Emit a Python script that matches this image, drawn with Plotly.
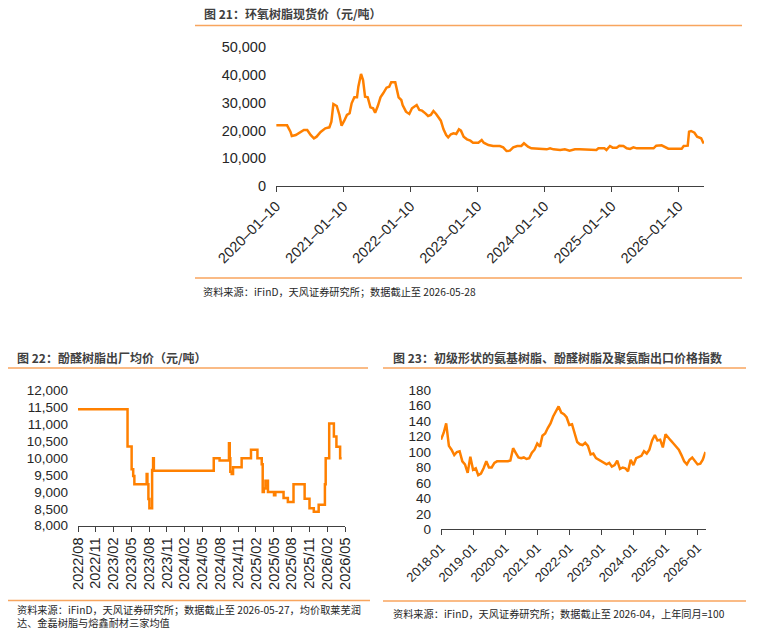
import plotly.graph_objects as go
import pandas as pd

# ---------------- data ----------------
# Chart 21: epoxy resin spot price (yuan/ton); x in decimal years
years21 = [2020.03, 2020.19, 2020.24, 2020.26, 2020.32, 2020.38, 2020.44, 2020.49, 2020.54, 2020.59,
           2020.63, 2020.69, 2020.76, 2020.82, 2020.85, 2020.88, 2020.93, 2020.97, 2021.00, 2021.04,
           2021.08, 2021.12, 2021.15, 2021.19, 2021.23, 2021.25, 2021.29, 2021.32, 2021.35, 2021.39,
           2021.43, 2021.47, 2021.50, 2021.54, 2021.58, 2021.62, 2021.67, 2021.71, 2021.74, 2021.80,
           2021.82, 2021.85, 2021.89, 2021.91, 2021.96, 2022.01, 2022.05, 2022.09, 2022.12, 2022.16,
           2022.20, 2022.25, 2022.29, 2022.33, 2022.37, 2022.41, 2022.44, 2022.48, 2022.52, 2022.56,
           2022.59, 2022.63, 2022.67, 2022.71, 2022.75, 2022.78, 2022.82, 2022.87, 2022.92, 2022.96,
           2023.04, 2023.09, 2023.12, 2023.19, 2023.26, 2023.36, 2023.41, 2023.46, 2023.51, 2023.56,
           2023.62, 2023.68, 2023.72, 2023.78, 2023.83, 2023.96, 2024.06, 2024.11, 2024.16, 2024.26,
           2024.33, 2024.40, 2024.48, 2024.55, 2024.80, 2024.83, 2024.92, 2024.95, 2025.00, 2025.04,
           2025.10, 2025.14, 2025.20, 2025.25, 2025.30, 2025.35, 2025.40, 2025.65, 2025.69, 2025.77,
           2025.82, 2025.87, 2026.07, 2026.10, 2026.16, 2026.18, 2026.21, 2026.26, 2026.30, 2026.34,
           2026.36, 2026.39, 2026.40]
values21 = [21880, 21880, 19580, 18030, 18390, 19220, 20190, 20190, 18390, 17190,
            17780, 19470, 20790, 21150, 23190, 29560, 28840, 25600, 21750, 23550,
            25600, 26200, 29800, 31970, 31970, 35800, 40380, 38210, 32200, 31970,
            28360, 27990, 26430, 28840, 31970, 33420, 35440, 35800, 37380, 37380,
            35200, 31960, 31000, 29200, 26790, 25960, 28000, 28600, 29200, 27400,
            27160, 26200, 25240, 25600, 27040, 25960, 25000, 23550, 20430, 18390,
            17550, 18640, 19000, 18760, 20430, 19950, 17780, 16830, 16350, 15630,
            15630, 16580, 15630, 14780, 14420, 14420, 13940, 12620, 12740, 13940,
            14420, 14420, 15390, 14180, 13580, 13340, 13220, 13580, 13220, 12980,
            13220, 12740, 13220, 13220, 12980, 13580, 13580, 12980, 14420, 13820,
            13820, 14540, 14420, 13580, 13340, 13940, 13580, 13580, 14540, 14660,
            14180, 13460, 13460, 14420, 14540, 19580, 19830, 19220, 17780, 17550,
            17190, 15630, 15390]
ticks21 = ["2020-01-10", "2021-01-10", "2022-01-10", "2023-01-10", "2024-01-10", "2025-01-10", "2026-01-10"]
ticklabels21 = ["2020–01–10", "2021–01–10", "2022–01–10", "2023–01–10", "2024–01–10", "2025–01–10", "2026–01–10"]

# Chart 22: phenolic resin ex-factory average price (yuan/ton), step series
dates22 = ["2022-08-31", "2023-05-12", "2023-06-02", "2023-06-10", "2023-06-16", "2023-08-18", "2023-08-22",
           "2023-08-27", "2023-09-01", "2023-09-15", "2023-09-20", "2023-09-24", "2024-07-27", "2024-08-26",
           "2024-10-13", "2024-10-17", "2024-10-20", "2024-10-27", "2024-11-03", "2024-12-17", "2025-02-03",
           "2025-03-08", "2025-03-30", "2025-04-04", "2025-04-10", "2025-04-18", "2025-05-01", "2025-06-01",
           "2025-06-08", "2025-07-20", "2025-08-11", "2025-09-09", "2025-11-05", "2025-11-30", "2025-12-22",
           "2026-01-16", "2026-02-17", "2026-02-21", "2026-03-11", "2026-04-04", "2026-04-17", "2026-05-06",
           "2026-05-14"]
values22 = [11450, 10350, 9670, 9470, 9230, 9530, 9230,
            8790, 8520, 9650, 10000, 9630, 10000, 9930,
            10440, 10000, 9600, 9530, 9730, 10000, 10250,
            10000, 9820, 9000, 9100, 9330, 9000, 8900,
            9000, 8820, 8700, 9230, 8800, 8520, 8410,
            8620, 9230, 10000, 11030, 10640, 10340, 10000,
            10000]
ticks22 = ["2022-08-31", "2022-11-30", "2023-02-28", "2023-05-31", "2023-08-31", "2023-11-30", "2024-02-29",
           "2024-05-31", "2024-08-31", "2024-11-30", "2025-02-28", "2025-05-31", "2025-08-31", "2025-11-30",
           "2026-02-28", "2026-05-31"]
ticklabels22 = ["2022/08", "2022/11", "2023/02", "2023/05", "2023/08", "2023/11", "2024/02",
                "2024/05", "2024/08", "2024/11", "2025/02", "2025/05", "2025/08", "2025/11",
                "2026/02", "2026/05"]

# Chart 23: export price index, monthly 2018-01 .. 2026-04 (same month last year = 100)
months23 = pd.date_range("2018-01-01", "2026-04-01", freq="MS")
values23 = [116, 125, 137, 108, 103, 96, 100, 101, 88, 84,
            73, 94, 77, 79, 70, 72, 79, 88, 80, 80,
            86, 88, 88, 88, 88, 88, 89, 105, 99, 93,
            92, 93, 91, 92, 99, 103, 111, 107, 121, 124,
            131, 137, 146, 153, 159, 151, 149, 145, 135, 136,
            126, 113, 110, 109, 112, 108, 97, 98, 92, 90,
            88, 85, 84, 86, 81, 83, 89, 78, 80, 79,
            75, 90, 83, 92, 93, 95, 101, 98, 103, 115,
            122, 115, 116, 106, 123, 118, 115, 111, 107, 103,
            96, 88, 84, 90, 93, 89, 84, 85, 90, 100]
ticks23 = ["2018-01-01", "2019-01-01", "2020-01-01", "2021-01-01", "2022-01-01",
           "2023-01-01", "2024-01-01", "2025-01-01", "2026-01-01"]
ticklabels23 = ["2018-01", "2019-01", "2020-01", "2021-01", "2022-01",
                "2023-01", "2024-01", "2025-01", "2026-01"]

title21 = "图 21：环氧树脂现货价（元/吨）"
title22 = "图 22：酚醛树脂出厂均价（元/吨）"
title23 = "图 23：初级形状的氨基树脂、酚醛树脂及聚氨酯出口价格指数"
source21 = "资料来源：iFinD，天风证券研究所；数据截止至 2026-05-28"
source22a = "资料来源：iFinD，天风证券研究所；数据截止至 2026-05-27，均价取莱芜润"
source22b = "达、金磊树脂与熔鑫耐材三家均值"
source23 = "资料来源：iFinD，天风证券研究所；数据截止至 2026-04，上年同月=100"


def yr_to_date(y):
    year = int(y)
    return pd.Timestamp(year, 1, 1) + pd.Timedelta(days=(y - year) * 365.25)


dates21 = [yr_to_date(y) for y in years21]

# ---------------- styling ----------------
OFF = 1                      # the page body margin is removed below
W, H = 762 - OFF, 629 - OFF
LINE = "#FF8000"
RULE = "#F8A55E"
AX = "#404040"
TXT = "#262626"
FONT = "Liberation Sans, Arial, Noto Sans CJK SC, sans-serif"


def fx(p):
    return (p - OFF) / W


def fy(p):
    return 1 - (p - OFF) / H


fig = go.Figure()
fig.add_trace(go.Scatter(x=dates21, y=values21, mode="lines",
                         line=dict(color=LINE, width=2.5), xaxis="x", yaxis="y"))
fig.add_trace(go.Scatter(x=dates22, y=values22, mode="lines",
                         line=dict(color=LINE, width=2.5, shape="hv"), xaxis="x2", yaxis="y2"))
fig.add_trace(go.Scatter(x=months23, y=values23, mode="lines",
                         line=dict(color=LINE, width=2.5), xaxis="x3", yaxis="y3"))

xcommon = dict(type="date", showline=True, linecolor=AX, linewidth=1, ticks="outside",
               ticklen=5, tickcolor=AX, tickwidth=1, showgrid=False, zeroline=False,
               automargin=False)
ycommon = dict(showline=False, ticks="", showgrid=False, zeroline=False, tickformat=",d",
               ticklabelstandoff=9, automargin=False)

fig.update_layout(
    width=W, height=H, margin=dict(l=0, r=0, t=0, b=0, pad=0, autoexpand=False),
    autosize=False,
    paper_bgcolor="white", plot_bgcolor="white", showlegend=False,
    font=dict(family=FONT, color=TXT),
    xaxis=dict(xcommon, domain=[fx(276), fx(704)], range=["2020-01-10", "2026-05-28"], anchor="y",
               tickvals=ticks21, ticktext=ticklabels21, tickangle=-45,
               tickfont=dict(size=14.5, color=TXT, family=FONT)),
    yaxis=dict(ycommon, domain=[fy(186), fy(47.3)], range=[0, 50000], anchor="x",
               tickvals=[0, 10000, 20000, 30000, 40000, 50000],
               tickfont=dict(size=14.5, color=TXT, family=FONT)),
    xaxis2=dict(xcommon, domain=[fx(78), fx(345)], range=["2022-08-31", "2026-05-31"], anchor="y2",
                tickvals=ticks22, ticktext=ticklabels22, tickangle=-90,
                tickfont=dict(size=14.5, color=TXT, family=FONT)),
    yaxis2=dict(ycommon, domain=[fy(525.7), fy(390.7)], range=[8000, 12000], anchor="x2",
                tickvals=list(range(8000, 12001, 500)),
                tickfont=dict(size=13.5, color=TXT, family=FONT)),
    xaxis3=dict(xcommon, domain=[fx(441), fx(705.5)], range=["2018-01-01", "2026-04-01"], anchor="y3",
                tickvals=ticks23, ticktext=ticklabels23, tickangle=-45,
                tickfont=dict(size=13, color=TXT, family=FONT)),
    yaxis3=dict(ycommon, domain=[fy(529.3), fy(390.2)], range=[0, 180], anchor="x3",
                tickvals=list(range(0, 181, 20)),
                tickfont=dict(size=13.5, color=TXT, family=FONT)),
)

# rules under titles and above sources
rules = [(195, 742, 25.5), (195, 742, 278), (8, 368, 368), (8, 370, 600.5), (383, 746, 368), (383, 746, 601)]
for x0, x1, y in rules:
    fig.add_shape(type="line", xref="paper", yref="paper", x0=fx(x0), x1=fx(x1), y0=fy(y), y1=fy(y),
                  line=dict(color=RULE, width=1.6))

annos = [
    (203, 13.5, "<b>" + title21 + "</b>", 12, "#404040"),
    (16, 357, "<b>" + title22 + "</b>", 12, "#404040"),
    (392, 357, "<b>" + title23 + "</b>", 12, "#404040"),
    (202, 291, source21, 10.2, TXT),
    (16, 609.5, source22a, 10.2, TXT),
    (16, 622.5, source22b, 10.2, TXT),
    (392, 613, source23, 10.2, TXT),
]
for x, y, t, s, c in annos:
    fig.add_annotation(xref="paper", yref="paper", x=fx(x), y=fy(y), text=t, showarrow=False,
                       xanchor="left", yanchor="middle", align="left", borderpad=0,
                       font=dict(size=s, color=c, family="Noto Sans CJK SC, Liberation Sans, sans-serif"))

fig.write_html("out.html", config={"responsive": False},
               post_script="document.body.style.margin='0px';document.body.style.padding='0px';"
                           "var d=document.getElementById('{plot_id}');"
                           "d.style.position='absolute';d.style.left='1px';d.style.top='1px';")
